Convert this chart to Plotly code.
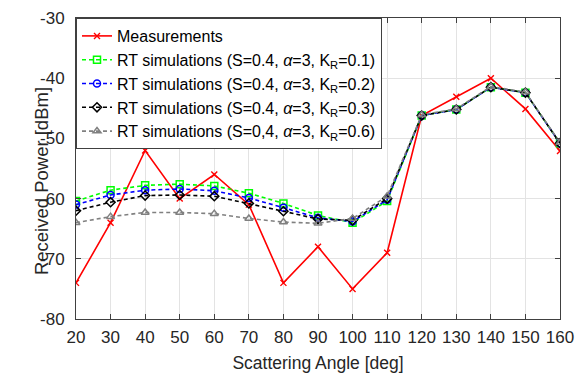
import plotly.graph_objects as go

angles = [20, 30, 40, 50, 60, 70, 80, 90, 100, 110, 120, 130, 140, 150, 160]
measurements = [-74, -64, -52, -60, -56, -61, -74, -68, -75, -69, -46.2, -43.1, -40, -45.1, -52.1]
rt_k01 = [-60.4, -58.6, -57.8, -57.6, -57.9, -59.1, -60.8, -62.8, -64.0, -60.4, -46.2, -45.2, -41.5, -42.4, -50.8]
rt_k02 = [-61.0, -59.4, -58.6, -58.4, -58.7, -59.9, -61.5, -63.2, -63.8, -60.2, -46.2, -45.2, -41.5, -42.4, -50.8]
rt_k03 = [-62.0, -60.6, -59.5, -59.4, -59.6, -60.8, -62.1, -63.4, -63.6, -60.0, -46.2, -45.2, -41.5, -42.4, -50.8]
rt_k06 = [-64.0, -63.0, -62.3, -62.3, -62.5, -63.3, -63.9, -64.1, -63.3, -59.6, -46.1, -45.1, -41.4, -42.3, -50.7]

y_ticks = [-80, -70, -60, -50, -40, -30]
y_ticktext = ["-80", "-70", "-60", "-50", "-40", "-30"]
x_ticks = list(range(20, 161, 10))

names = [
    "Measurements",
    "RT simulations (S=0.4, <i>α</i>=3, K<sub>R</sub>=0.1)",
    "RT simulations (S=0.4, <i>α</i>=3, K<sub>R</sub>=0.2)",
    "RT simulations (S=0.4, <i>α</i>=3, K<sub>R</sub>=0.3)",
    "RT simulations (S=0,4, <i>α</i>=3, K<sub>R</sub>=0.6)",
]

FONT = "Arial, Liberation Sans, Helvetica"
TXT = "#262626"

fig = go.Figure()
fig.add_trace(go.Scatter(x=angles, y=measurements, name=names[0], mode="lines+markers",
                         line=dict(color="#ff0000", width=1.6),
                         marker=dict(symbol="x-thin-open", size=6, line=dict(color="#ff0000", width=1.4))))
specs = [
    (rt_k01, "#00ff00", "square-open"),
    (rt_k02, "#0000ff", "circle-open"),
    (rt_k03, "#000000", "diamond-open"),
    (rt_k06, "#808080", "triangle-up-open"),
]
for (vals, col, sym), nm in zip(specs, names[1:]):
    fig.add_trace(go.Scatter(x=angles, y=vals, name=nm, mode="lines+markers",
                             line=dict(color=col, width=1.6, dash="4px,3px"),
                             marker=dict(symbol=sym, size=7, color=col, line=dict(color=col, width=1.5))))

axis_common = dict(showline=True, linecolor="#404040", linewidth=1, mirror="ticks",
                   ticks="inside", ticklen=5, tickcolor="#404040",
                   showgrid=True, gridcolor="#e3e3e3", gridwidth=1, zeroline=False,
                   ticklabeloverflow="allow",
                   tickfont=dict(family=FONT, size=17, color=TXT))

fig.update_xaxes(range=[20, 160], tickvals=x_ticks, ticklabelstandoff=3,
                 title=dict(text="Scattering Angle [deg]", font=dict(family=FONT, size=17.5, color=TXT), standoff=10),
                 **axis_common)
fig.update_yaxes(range=[-80, -30], tickvals=y_ticks, ticktext=y_ticktext, ticklabelstandoff=7,
                 **axis_common)

fig.add_annotation(text="Received Power [dBm]", xref="paper", yref="paper",
                   x=(41 - 76) / 484, y=1 - (177 - 9) / 310, xanchor="center", yanchor="middle",
                   textangle=-90, showarrow=False,
                   font=dict(family=FONT, size=18.5, color=TXT))

fig.update_layout(
    width=586, height=379,
    margin=dict(l=76, r=26, t=9, b=60),
    paper_bgcolor="white", plot_bgcolor="white",
    font=dict(family=FONT, color="#000000"),
    legend=dict(x=0.0, y=1.0, xanchor="left", yanchor="top",
                bgcolor="white", bordercolor="#404040", borderwidth=1,
                font=dict(family=FONT, size=16, color="#000000"),
                tracegroupgap=0, itemwidth=30),
    showlegend=True,
)

fig.write_html("out.html")
